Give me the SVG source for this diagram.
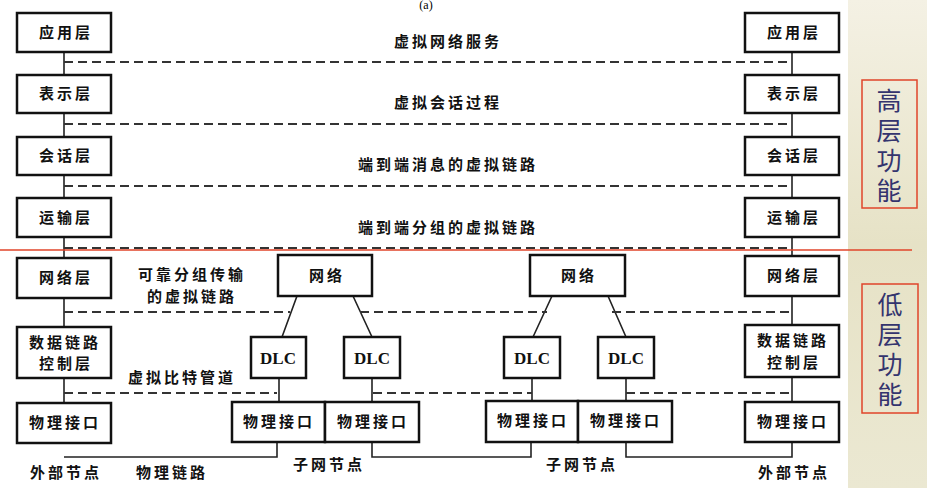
<svg xmlns="http://www.w3.org/2000/svg" width="927" height="488" viewBox="0 0 927 488">
<defs>
<linearGradient id="bg" x1="0" y1="0" x2="0" y2="1"><stop offset="0" stop-color="#f4f1e4"/><stop offset="0.5" stop-color="#e6e2c6"/><stop offset="1" stop-color="#ebe8d2"/></linearGradient>
<style>
.b{fill:#fff;stroke:#111;stroke-width:2.5}
.l{fill:none;stroke:#222;stroke-width:1.6}
.d{fill:none;stroke:#333;stroke-width:1.8;stroke-dasharray:9,5}
.t{font-family:"Noto Sans CJK SC","Liberation Sans",sans-serif;font-size:15px;fill:#111;text-anchor:middle;font-weight:bold;letter-spacing:3px}
.e{font-family:"Liberation Serif",serif;font-size:17px;fill:#111;text-anchor:middle;font-weight:bold}
.v{font-family:"Noto Sans CJK SC",sans-serif;font-size:25px;fill:#34346e;text-anchor:middle}
</style>
</defs>
<rect width="927" height="488" fill="#fff"/>
<rect x="848" y="0" width="79" height="488" fill="url(#bg)"/>
<g id="connectors">
<path class="l" d="M64 52V403M792 52V403M277 443V457H64M372 443V457H531V443M626 443V457H792V443M279 378V402M372 378V402M532 378V402M626 378V402M297 296L282 337M353 296L372 337M552 296L533 337M608 296L626 337"/>
<path class="d" d="M64 62H792M64 124H792M64 186H792M64 248H792M64 312H290M360 312H547M612 312H792M64 393H277M373 393H532M626 393H792"/>
<line x1="0" y1="250" x2="912" y2="250" stroke="#e0442a" stroke-width="1.5"/>
</g>
<text x="426" y="9" font-family="Liberation Serif,serif" font-size="12" text-anchor="middle">(a)</text>
<g class="t">
<text x="448" y="47">虚拟网络服务</text>
<text x="448" y="108">虚拟会话过程</text>
<text x="448" y="170">端到端消息的虚拟链路</text>
<text x="448" y="233">端到端分组的虚拟链路</text>
<text x="192" y="280">可靠分组传输</text>
<text x="192" y="302">的虚拟链路</text>
<text x="182" y="383">虚拟比特管道</text>
<text x="66" y="478">外部节点</text>
<text x="172" y="478">物理链路</text>
<text x="329" y="470">子网节点</text>
<text x="582" y="470">子网节点</text>
<text x="794" y="478">外部节点</text>
</g>
<g id="L1"><rect class="b" x="17" y="13" width="94" height="39"/><text class="t" x="66" y="38">应用层</text></g>
<g id="L2"><rect class="b" x="17" y="75" width="94" height="38"/><text class="t" x="66" y="99">表示层</text></g>
<g id="L3"><rect class="b" x="17" y="137" width="94" height="38"/><text class="t" x="66" y="161">会话层</text></g>
<g id="L4"><rect class="b" x="17" y="198" width="94" height="39"/><text class="t" x="66" y="223">运输层</text></g>
<g id="L5"><rect class="b" x="17" y="258" width="94" height="40"/><text class="t" x="66" y="283">网络层</text></g>
<g id="L6"><rect class="b" x="17" y="327" width="94" height="51"/><text class="t" x="65" y="348" letter-spacing="1">数据链路</text><text class="t" x="66" y="369">控制层</text></g>
<g id="L7"><rect class="b" x="17" y="403" width="94" height="40"/><text class="t" x="65" y="428" letter-spacing="2">物理接口</text></g>
<g id="R1"><rect class="b" x="745" y="13" width="94" height="39"/><text class="t" x="794" y="38">应用层</text></g>
<g id="R2"><rect class="b" x="745" y="75" width="94" height="38"/><text class="t" x="794" y="99">表示层</text></g>
<g id="R3"><rect class="b" x="745" y="137" width="94" height="38"/><text class="t" x="794" y="161">会话层</text></g>
<g id="R4"><rect class="b" x="745" y="198" width="94" height="39"/><text class="t" x="794" y="223">运输层</text></g>
<g id="R5"><rect class="b" x="745" y="256" width="94" height="40"/><text class="t" x="794" y="281">网络层</text></g>
<g id="R6"><rect class="b" x="745" y="325" width="94" height="52"/><text class="t" x="793" y="346" letter-spacing="1">数据链路</text><text class="t" x="794" y="368">控制层</text></g>
<g id="R7"><rect class="b" x="745" y="402" width="94" height="40"/><text class="t" x="793" y="427" letter-spacing="2">物理接口</text></g>
<g id="N1"><rect class="b" x="278" y="255" width="94" height="41"/><text class="t" x="327" y="281">网络</text></g>
<g id="D1"><rect class="b" x="251" y="337" width="55" height="41"/><text class="e" x="278" y="364">DLC</text></g>
<g id="D2"><rect class="b" x="344" y="337" width="56" height="41"/><text class="e" x="372" y="364">DLC</text></g>
<g id="P1"><rect class="b" x="232" y="402" width="93" height="40"/><text class="t" x="279" y="427" letter-spacing="2">物理接口</text></g>
<g id="P2"><rect class="b" x="325" y="402" width="94" height="40"/><text class="t" x="373" y="427" letter-spacing="2">物理接口</text></g>
<g id="N2"><rect class="b" x="530" y="255" width="95" height="41"/><text class="t" x="579" y="281">网络</text></g>
<g id="D3"><rect class="b" x="504" y="337" width="56" height="41"/><text class="e" x="532" y="364">DLC</text></g>
<g id="D4"><rect class="b" x="598" y="337" width="56" height="41"/><text class="e" x="626" y="364">DLC</text></g>
<g id="P3"><rect class="b" x="486" y="401" width="92" height="41"/><text class="t" x="533" y="426" letter-spacing="2">物理接口</text></g>
<g id="P4"><rect class="b" x="578" y="401" width="94" height="41"/><text class="t" x="626" y="426" letter-spacing="2">物理接口</text></g>
<g id="high"><rect x="862" y="80" width="55" height="128" fill="none" stroke="#e0442a" stroke-width="1.5"/><text class="v" x="889" y="110">高</text><text class="v" x="889" y="140">层</text><text class="v" x="889" y="170">功</text><text class="v" x="889" y="200">能</text></g>
<g id="low"><rect x="862" y="284" width="56" height="129" fill="none" stroke="#e0442a" stroke-width="1.5"/><text class="v" x="890" y="314">低</text><text class="v" x="890" y="344">层</text><text class="v" x="890" y="374">功</text><text class="v" x="890" y="404">能</text></g>
</svg>
